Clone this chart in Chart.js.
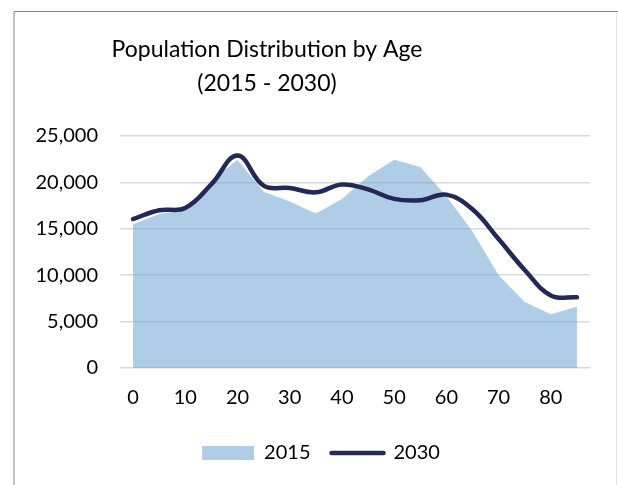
<!DOCTYPE html>
<html>
<head>
<meta charset="utf-8">
<script src="https://cdn.jsdelivr.net/npm/chart.js@4"></script>
<style>
  html, body { margin: 0; padding: 0; background: #ffffff; }
  #wrap { position: relative; width: 618px; height: 485px; }
</style>
</head>
<body>
<div id="wrap"><canvas id="c" width="618" height="485"></canvas></div>
<script>
const titleLines = ['Population Distribution by Age', '(2015 - 2030)'];
const ages = [0, 5, 10, 15, 20, 25, 30, 35, 40, 45, 50, 55, 60, 65, 70, 75, 80, 85];
const pop2015 = [15500, 16600, 17000, 20200, 22450, 19000, 17950, 16650, 18200, 20650, 22450, 21650, 18500, 14700, 10000, 7100, 5800, 6600];
const pop2030 = [16050, 17000, 17250, 19800, 22900, 19650, 19400, 18930, 19780, 19250, 18220, 18080, 18680, 17100, 13900, 10560, 7820, 7620];
const yTicks = [0, 5000, 10000, 15000, 20000, 25000];
const seriesNames = ['2015', '2030'];

const FONT = 'Lato, "Open Sans", sans-serif';
const AREA_FILL = 'rgba(97,155,209,0.5)';
const LINE_COLOR = '#242857';

const framePlugin = {
  id: 'frame',
  afterLayout(chart) {
    const lg = chart.legend;
    if (lg) { lg.left += 26; lg.right += 26; }
  },
  beforeDraw(chart) {
    const ctx = chart.ctx;
    ctx.save();
    ctx.fillStyle = '#ffffff';
    ctx.fillRect(0, 0, chart.width, chart.height);
    ctx.lineWidth = 1;
    ctx.strokeStyle = '#e6e6e6';
    ctx.beginPath();
    ctx.moveTo(616.5, 11);
    ctx.lineTo(616.5, 485);
    ctx.stroke();
    ctx.strokeStyle = '#868686';
    ctx.beginPath();
    ctx.moveTo(14, 485);
    ctx.lineTo(14, 11.5);
    ctx.lineTo(618, 11.5);
    ctx.stroke();
    ctx.restore();
  },
  afterDraw(chart) {
    const ctx = chart.ctx;
    ctx.save();
    ctx.fillStyle = '#000000';
    ctx.textAlign = 'center';
    ctx.textBaseline = 'alphabetic';
    ctx.font = '23px ' + FONT;
    ctx.fillText(titleLines[0], 267, 57);
    ctx.fillText(titleLines[1], 267, 91);
    ctx.restore();
  }
};

new Chart(document.getElementById('c'), {
  type: 'line',
  data: {
    labels: ages,
    datasets: [
      {
        label: seriesNames[0],
        data: pop2015,
        fill: 'origin',
        backgroundColor: AREA_FILL,
        borderWidth: 0,
        borderColor: 'rgba(0,0,0,0)',
        pointRadius: 0,
        tension: 0,
        order: 2
      },
      {
        label: seriesNames[1],
        data: pop2030,
        fill: false,
        borderColor: LINE_COLOR,
        backgroundColor: LINE_COLOR,
        borderWidth: 4.5,
        borderCapStyle: 'round',
        borderJoinStyle: 'round',
        pointRadius: 0,
        tension: 0.4,
        cubicInterpolationMode: 'default',
        order: 1
      }
    ]
  },
  options: {
    responsive: false,
    animation: false,
    devicePixelRatio: 1,
    layout: { padding: { left: 0, right: 28, top: 136, bottom: 12 } },
    plugins: {
      title: { display: false },
      tooltip: { enabled: false },
      legend: {
        display: true,
        position: 'bottom',
        align: 'center',
        labels: {
          font: { family: FONT, size: 20 },
          color: '#000000',
          usePointStyle: true,
          pointStyleWidth: 52,
          boxHeight: 14,
          padding: 21,
          generateLabels(chart) {
            return [
              {
                text: seriesNames[0],
                fillStyle: AREA_FILL,
                strokeStyle: 'rgba(0,0,0,0)',
                lineWidth: 0,
                pointStyle: 'rect',
                datasetIndex: 0,
                hidden: false,
                fontColor: '#000000'
              },
              {
                text: seriesNames[1],
                fillStyle: LINE_COLOR,
                strokeStyle: LINE_COLOR,
                lineWidth: 4.5,
                lineCap: 'round',
                pointStyle: 'line',
                datasetIndex: 1,
                hidden: false,
                fontColor: '#000000'
              }
            ];
          }
        }
      }
    },
    scales: {
      x: {
        type: 'category',
        offset: true,
        grid: { display: false, drawTicks: false },
        border: { display: false },
        ticks: {
          autoSkip: false,
          maxRotation: 0,
          padding: 18,
          color: '#000000',
          font: { family: FONT, size: 20 },
          callback(value, index) { return index % 2 === 0 ? String(ages[index]) : ''; }
        },
        afterFit(scale) { scale.height = 54; }
      },
      y: {
        min: 0,
        max: 25000,
        afterBuildTicks(scale) { scale.ticks = yTicks.map(v => ({ value: v })); },
        grid: { color: '#d9d9d9', lineWidth: 1.5, drawTicks: false },
        border: { display: false },
        ticks: {
          padding: 22,
          color: '#000000',
          font: { family: FONT, size: 20 },
          callback(value) { return Number(value).toLocaleString('en-US'); }
        },
        afterFit(scale) { scale.width = 120; }
      }
    }
  },
  plugins: [framePlugin]
});
</script>
</body>
</html>
